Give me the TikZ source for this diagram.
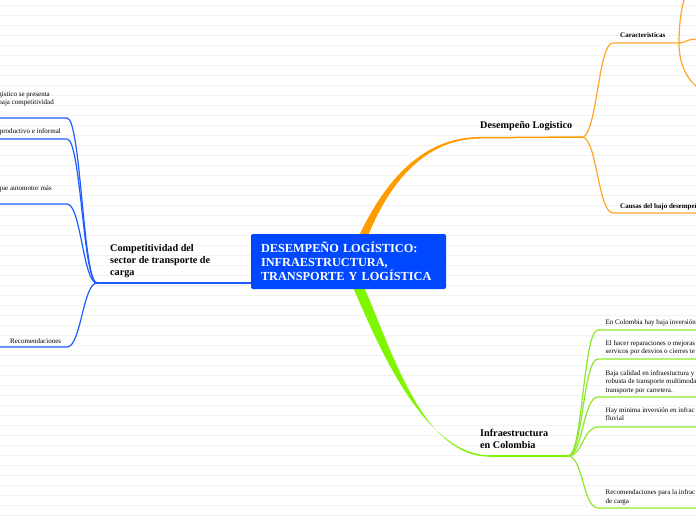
\documentclass[tikz,border=0pt]{standalone}
\usepackage{fontspec}
\setmainfont{Liberation Serif}
\usetikzlibrary{calc,backgrounds}
\definecolor{mapblue}{HTML}{0048FF}
\definecolor{lineblue}{HTML}{1E5BFF}
\definecolor{maporange}{HTML}{FF9C00}
\definecolor{lineorange}{HTML}{FFA52A}
\definecolor{mapgreen}{HTML}{80F500}
\definecolor{linegreen}{HTML}{8BE82A}
\definecolor{ruling}{HTML}{F2F2F2}
\begin{document}
\begin{tikzpicture}[x=1pt,y=-1pt,
    rule/.style={ruling,line width=0.8pt},
    bl/.style={lineblue,line width=1.2pt},
    ol/.style={lineorange,line width=1.2pt},
    gl/.style={linegreen,line width=1.2pt},
    topic/.style={inner sep=0pt,anchor=west,align=left,font=\bfseries\fontsize{10.2}{12}\selectfont},
    leaf/.style={inner sep=0pt,anchor=west,align=left,font=\fontsize{7}{8.5}\selectfont},
    boldleaf/.style={leaf,font=\bfseries\fontsize{7}{8.5}\selectfont}]
    \useasboundingbox (0,0) rectangle (696,520);
    \node[fill=mapblue,rounded corners=2pt,minimum width=195pt,minimum height=55pt,text width=175pt,
        inner xsep=10pt,inner ysep=0pt,align=left,text=white,font=\bfseries\fontsize{12.3}{14}\selectfont]
        (main) at (348.5,261.5) {DESEMPEÑO LOGÍSTICO:\\INFRAESTRUCTURA,\\TRANSPORTE Y LOGÍSTICA};
    \node[topic] (desT) at (480,126) {Desempeño Logistico};
    \node[topic] (infT) at (480,439) {Infraestructura\\en Colombia};
    \node[topic] (comT) at (110,261) {Competitividad del\\sector de transporte de\\carga};
    \node[boldleaf] (carT) at (620,35.5) {Caracteristicas};
    \node[boldleaf] (cauT) at (620,207) {Causas del bajo desempeño};
    \node[leaf] (g1) at (605.5,323) {En Colombia hay baja inversión};
    \node[leaf] (g2) at (605.5,348) {El hacer reparaciones o mejoras\\servicos por desvios o cierres te};
    \node[leaf] (g3) at (605.5,382) {Baja calidad en infraestuctura y a\\robusta de transporte multimoda\\transporte por carretera.};
    \node[leaf] (g4) at (605.5,414) {Hay minima inversión en infrac\\fluvial};
    \node[leaf] (g5) at (605.5,497.5) {Recomendaciones para la infrac\\de carga};
    \node[leaf,anchor=east] (pres1) at (50,95) {gístico se presenta};
    \node[leaf,anchor=east] (pres2) at (54,103) {baja competitividad};
    \node[leaf,anchor=east] (prod) at (61,132) {productivo e informal};
    \node[leaf,anchor=east] (auto) at (52,189) {que automotor más};
    \node[leaf] (reco) at (10,341) {Recomendaciones};
    \coordinate (oJ) at (582,137);
    \coordinate (cJ) at (679,43);
    \coordinate (gJ) at (568,456);
    \coordinate (bJ) at (97,283);
    \begin{scope}[on background layer]
        \fill[white] (0,0) rectangle (696,520);
        \foreach \y in {5,15,...,515} \draw[rule] (0,\y)--(696,\y);
        \fill[maporange] ($(main.north)+(10.5,2)$) .. controls (390,170) and (430,137) .. (480,137)
            -- (480,138.5) .. controls (432,139) and (394,172) .. ($(main.north)+(19.5,2)$) -- cycle;
        \draw[maporange,line width=1.5pt] (479,137.75) -- (oJ);
        \fill[mapgreen] ($(main.south)+(4.5,-2)$) .. controls (380,350) and (425,455) .. (490,455.3)
            -- (490,456.7) .. controls (422,457) and (392,350) .. ($(main.south)+(15.5,-2)$) -- cycle;
        \draw[mapgreen,line width=1.5pt] (489,456) -- (gJ);
        \draw[lineblue,line width=1.5pt] (main.west |- bJ) -- (bJ);
        \draw[ol] (oJ) .. controls +(15,0) and +(-15,0) .. (613,43) -- (cJ);
        \draw[ol] (oJ) .. controls +(15,0) and +(-15,0) .. (613,213) -- (710,213);
        \draw[ol] (cJ) .. controls +(0,-50) and +(-25,0) .. (720,-40);
        \draw[ol] (cJ) .. controls (686,43) and (684,39) .. (700,39);
        \draw[ol] (cJ) .. controls +(0,35) and +(-20,0) .. (720,95);
        \foreach \yy in {330,359,397,427,508}
            \draw[gl] (gJ) .. controls +(15,0) and +(-15,0) .. (598,\yy) -- (710,\yy);
        \foreach \yy in {118,139,204,347}
            \draw[bl] (bJ) .. controls +(-14,0) and +(14,0) .. (67,\yy) -- (-5,\yy);
    \end{scope}
\end{tikzpicture}
\end{document}
